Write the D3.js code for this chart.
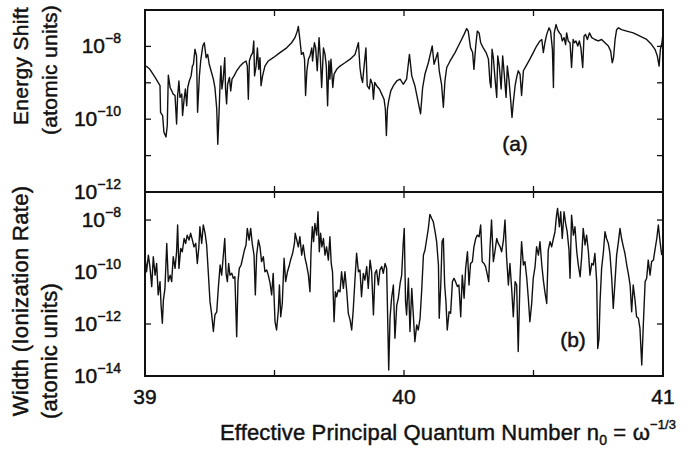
<!DOCTYPE html>
<html>
<head>
<meta charset="utf-8">
<script src="https://cdn.jsdelivr.net/npm/d3@7"></script>
<style>
  body { margin: 0; background: #fff; }
  text { font-family: "Liberation Sans", Arial, sans-serif; fill: #111; stroke: #111; stroke-width: 0.45px; }
</style>
</head>
<body>
<div id="container"></div>
<script>
/* CONSTANTS AND GLOBALS */
const width = 690;
const height = 449;
const frame = { left: 145, right: 663 };
const panelA = { top: 10, bottom: 192 };
const panelB = { top: 192, bottom: 376 };

/* DATA : [n0, log10(value in atomic units)] */
const shiftPts = [
  [39.004,-8.54],[39.019,-8.63],[39.039,-8.85],[39.058,-9.08],[39.060,-9.81],[39.068,-9.90],[39.073,-10.35],[39.081,-10.49],[39.086,-10.17],[39.090,-8.79],
  [39.097,-9.13],[39.103,-9.22],[39.109,-9.31],[39.116,-9.35],[39.122,-10.13],[39.126,-9.35],[39.131,-8.95],[39.135,-9.40],[39.142,-9.31],[39.145,-9.90],
  [39.151,-9.45],[39.156,-9.17],[39.161,-9.63],[39.165,-9.13],[39.171,-8.95],[39.178,-8.81],[39.183,-8.54],[39.187,-8.49],[39.193,-8.08],[39.199,-8.26],
  [39.203,-9.81],[39.210,-8.81],[39.215,-8.40],[39.223,-7.99],[39.229,-7.90],[39.236,-8.31],[39.242,-8.22],[39.248,-8.49],[39.255,-8.67],[39.264,-8.90],
  [39.270,-9.13],[39.277,-9.72],[39.281,-10.69],[39.286,-9.81],[39.290,-8.99],[39.293,-8.54],[39.297,-9.17],[39.302,-8.90],[39.308,-8.31],[39.311,-9.17],
  [39.315,-9.58],[39.319,-9.04],[39.326,-8.85],[39.331,-9.22],[39.336,-8.90],[39.344,-8.81],[39.354,-8.67],[39.367,-8.54],[39.380,-8.45],[39.390,-8.40],
  [39.395,-8.54],[39.399,-9.45],[39.403,-8.40],[39.409,-8.26],[39.416,-8.17],[39.420,-7.85],[39.423,-8.81],[39.429,-8.54],[39.434,-8.04],[39.439,-8.63],
  [39.444,-8.31],[39.448,-9.08],[39.454,-8.81],[39.463,-8.54],[39.476,-8.40],[39.495,-8.31],[39.521,-8.17],[39.547,-8.04],[39.566,-7.90],[39.579,-7.76],
  [39.588,-7.58],[39.592,-7.45],[39.598,-7.81],[39.604,-8.22],[39.611,-8.17],[39.616,-8.35],[39.620,-9.35],[39.625,-8.67],[39.631,-8.35],[39.637,-8.26],
  [39.644,-8.04],[39.647,-8.40],[39.654,-7.90],[39.659,-8.04],[39.665,-8.67],[39.672,-7.76],[39.677,-8.31],[39.682,-9.13],[39.689,-8.04],[39.695,-8.22],
  [39.700,-8.54],[39.705,-9.63],[39.710,-8.40],[39.714,-8.90],[39.718,-8.35],[39.725,-9.13],[39.730,-8.76],[39.740,-8.63],[39.753,-8.54],[39.772,-8.45],
  [39.792,-8.35],[39.811,-8.22],[39.824,-7.90],[39.830,-8.58],[39.835,-8.85],[39.840,-8.99],[39.846,-8.54],[39.853,-8.04],[39.858,-9.08],[39.866,-9.17],
  [39.871,-8.90],[39.878,-9.04],[39.882,-9.45],[39.887,-8.99],[39.894,-9.08],[39.905,-9.17],[39.914,-9.31],[39.923,-9.45],[39.928,-9.72],[39.932,-10.45],
  [39.936,-9.72],[39.941,-9.49],[39.949,-9.22],[39.959,-9.08],[39.972,-8.95],[39.985,-8.90],[39.997,-9.04],[40.010,-8.90],[40.021,-8.22],[40.030,-8.81],
  [40.042,-9.08],[40.055,-9.54],[40.064,-9.85],[40.072,-9.13],[40.081,-8.76],[40.094,-8.45],[40.103,-8.17],[40.109,-7.99],[40.116,-8.49],[40.124,-8.31],
  [40.130,-8.17],[40.136,-8.67],[40.145,-9.04],[40.152,-9.67],[40.158,-8.95],[40.165,-8.58],[40.178,-8.40],[40.197,-8.17],[40.216,-7.90],[40.232,-7.67],
  [40.242,-7.51],[40.248,-7.58],[40.257,-8.04],[40.265,-8.17],[40.270,-8.63],[40.277,-7.99],[40.283,-7.58],[40.290,-7.63],[40.296,-7.90],[40.306,-8.04],
  [40.317,-8.17],[40.326,-8.35],[40.332,-8.99],[40.336,-9.13],[40.340,-8.08],[40.345,-8.31],[40.351,-8.85],[40.358,-9.40],[40.362,-8.26],[40.368,-8.54],
  [40.375,-9.17],[40.381,-8.26],[40.387,-8.76],[40.394,-9.40],[40.399,-8.54],[40.405,-8.90],[40.412,-9.49],[40.417,-9.95],[40.422,-9.54],[40.429,-9.08],
  [40.435,-8.85],[40.441,-8.67],[40.448,-8.76],[40.454,-9.35],[40.461,-8.67],[40.471,-8.54],[40.486,-8.35],[40.499,-8.17],[40.512,-7.99],[40.525,-7.85],
  [40.532,-7.81],[40.538,-8.17],[40.544,-7.90],[40.551,-7.67],[40.560,-7.49],[40.566,-7.58],[40.573,-8.08],[40.577,-9.13],[40.580,-7.63],[40.587,-7.40],
  [40.593,-7.54],[40.600,-7.63],[40.606,-7.67],[40.611,-7.85],[40.618,-7.76],[40.624,-7.95],[40.628,-7.63],[40.634,-7.85],[40.641,-7.90],[40.647,-8.58],
  [40.653,-7.81],[40.658,-7.90],[40.664,-7.85],[40.671,-7.99],[40.677,-7.85],[40.683,-8.04],[40.690,-8.58],[40.695,-7.72],[40.701,-7.67],[40.708,-7.81],
  [40.716,-7.63],[40.725,-7.76],[40.737,-7.81],[40.750,-7.85],[40.763,-7.81],[40.776,-7.90],[40.789,-7.99],[40.798,-8.13],[40.804,-8.45],[40.809,-8.31],
  [40.815,-7.81],[40.821,-7.54],[40.828,-7.49],[40.840,-7.54],[40.860,-7.58],[40.885,-7.63],[40.911,-7.72],[40.937,-7.81],[40.956,-7.95],[40.969,-8.08],
  [40.978,-8.26],[40.985,-8.54],[40.990,-8.08],[40.996,-7.90],[41.000,-7.63]
];

const widthPts = [
  [39.000,-9.41],[39.006,-9.99],[39.013,-9.35],[39.019,-9.79],[39.026,-10.56],[39.032,-9.41],[39.039,-10.12],[39.045,-9.67],[39.051,-10.88],[39.058,-10.37],
  [39.062,-11.27],[39.067,-11.97],[39.071,-11.08],[39.077,-10.63],[39.084,-8.90],[39.090,-10.37],[39.097,-10.12],[39.103,-10.37],[39.109,-9.41],[39.116,-9.86],
  [39.122,-9.22],[39.126,-8.19],[39.131,-9.86],[39.138,-9.09],[39.144,-9.22],[39.151,-8.71],[39.157,-8.90],[39.163,-8.58],[39.170,-8.77],[39.176,-8.51],
  [39.183,-8.77],[39.189,-9.03],[39.196,-8.90],[39.202,-9.67],[39.208,-9.03],[39.212,-8.26],[39.219,-8.90],[39.225,-8.19],[39.232,-8.51],[39.238,-8.96],
  [39.245,-10.12],[39.251,-11.14],[39.257,-11.59],[39.264,-12.29],[39.270,-11.65],[39.277,-11.53],[39.283,-10.63],[39.290,-9.73],[39.296,-10.12],[39.302,-9.41],
  [39.308,-8.71],[39.313,-10.05],[39.318,-10.37],[39.323,-9.67],[39.328,-10.12],[39.335,-10.05],[39.341,-10.24],[39.347,-10.18],[39.354,-12.49],[39.359,-10.37],
  [39.364,-9.86],[39.371,-9.73],[39.377,-9.47],[39.384,-9.15],[39.390,-8.96],[39.395,-8.32],[39.402,-8.77],[39.408,-8.32],[39.414,-8.90],[39.421,-9.35],
  [39.426,-10.88],[39.431,-9.35],[39.438,-8.77],[39.444,-9.03],[39.450,-9.60],[39.457,-9.41],[39.463,-9.99],[39.470,-9.92],[39.476,-10.12],[39.483,-10.44],
  [39.489,-10.88],[39.495,-10.05],[39.502,-11.91],[39.508,-12.23],[39.515,-11.46],[39.519,-10.50],[39.524,-11.72],[39.530,-11.21],[39.537,-9.47],[39.543,-10.37],
  [39.550,-9.99],[39.556,-9.79],[39.562,-9.54],[39.570,-9.28],[39.577,-8.90],[39.580,-8.51],[39.586,-8.77],[39.592,-9.03],[39.598,-8.64],[39.605,-9.35],
  [39.611,-8.96],[39.618,-9.47],[39.624,-9.73],[39.631,-10.12],[39.637,-10.76],[39.641,-9.22],[39.646,-8.26],[39.651,-8.83],[39.656,-8.13],[39.663,-8.58],
  [39.668,-7.68],[39.673,-9.22],[39.678,-8.51],[39.683,-9.03],[39.689,-8.71],[39.695,-9.35],[39.701,-9.03],[39.708,-9.54],[39.714,-8.64],[39.719,-9.67],
  [39.724,-9.99],[39.730,-11.91],[39.735,-10.76],[39.740,-10.95],[39.746,-10.69],[39.753,-10.76],[39.759,-9.99],[39.766,-10.63],[39.772,-9.99],[39.779,-10.76],
  [39.785,-11.59],[39.792,-11.85],[39.798,-12.23],[39.804,-11.46],[39.811,-10.24],[39.817,-9.28],[39.824,-9.99],[39.830,-9.92],[39.836,-10.95],[39.843,-10.05],
  [39.849,-10.31],[39.856,-9.79],[39.862,-10.63],[39.869,-9.54],[39.875,-9.99],[39.882,-11.65],[39.888,-10.05],[39.894,-9.92],[39.901,-10.50],[39.907,-9.92],
  [39.914,-9.79],[39.920,-10.05],[39.927,-9.67],[39.933,-9.86],[39.937,-11.78],[39.941,-13.77],[39.946,-11.78],[39.952,-11.01],[39.959,-10.50],[39.965,-12.55],
  [39.972,-11.27],[39.978,-11.01],[39.985,-10.44],[39.991,-10.12],[39.997,-8.90],[40.001,-8.32],[40.006,-11.14],[40.010,-11.65],[40.017,-10.24],[40.023,-12.29],
  [40.030,-10.63],[40.036,-11.65],[40.042,-12.68],[40.049,-12.04],[40.055,-12.23],[40.062,-11.78],[40.068,-10.76],[40.075,-9.35],[40.081,-9.15],[40.088,-8.71],
  [40.094,-8.32],[40.100,-7.78],[40.107,-7.94],[40.113,-8.06],[40.120,-8.45],[40.126,-8.83],[40.133,-9.73],[40.136,-11.78],[40.142,-10.50],[40.147,-8.83],
  [40.152,-8.71],[40.157,-10.50],[40.162,-11.14],[40.167,-12.23],[40.174,-11.53],[40.180,-11.59],[40.187,-10.37],[40.193,-10.24],[40.199,-10.37],[40.206,-10.56],
  [40.212,-10.50],[40.219,-11.72],[40.225,-10.12],[40.232,-11.01],[40.238,-9.86],[40.245,-9.22],[40.251,-10.50],[40.257,-9.67],[40.264,-9.60],[40.270,-9.03],
  [40.277,-8.71],[40.283,-8.58],[40.290,-8.64],[40.296,-8.19],[40.302,-9.60],[40.309,-9.67],[40.315,-9.79],[40.322,-10.12],[40.327,-10.37],[40.332,-9.09],
  [40.338,-8.00],[40.345,-9.60],[40.351,-9.22],[40.358,-8.71],[40.364,-8.90],[40.371,-9.03],[40.377,-9.22],[40.384,-8.77],[40.390,-8.00],[40.396,-9.41],
  [40.403,-10.50],[40.409,-9.67],[40.416,-10.69],[40.422,-11.72],[40.429,-10.37],[40.435,-10.50],[40.441,-13.06],[40.448,-10.24],[40.454,-8.83],[40.461,-9.73],
  [40.467,-9.60],[40.474,-10.24],[40.480,-11.01],[40.486,-11.91],[40.493,-11.21],[40.499,-10.24],[40.506,-9.79],[40.512,-9.03],[40.519,-9.35],[40.525,-8.83],
  [40.532,-9.73],[40.538,-10.31],[40.544,-10.76],[40.551,-11.21],[40.557,-9.15],[40.564,-8.83],[40.570,-9.03],[40.577,-8.71],[40.583,-8.45],[40.589,-7.81],
  [40.593,-7.55],[40.600,-8.26],[40.605,-7.68],[40.611,-8.71],[40.618,-7.68],[40.624,-8.13],[40.630,-8.45],[40.637,-9.15],[40.641,-10.24],[40.647,-7.81],
  [40.654,-8.58],[40.660,-8.26],[40.667,-9.22],[40.673,-9.73],[40.680,-10.18],[40.686,-9.41],[40.692,-8.32],[40.699,-8.96],[40.705,-8.58],[40.712,-9.22],
  [40.718,-10.12],[40.725,-9.67],[40.731,-9.73],[40.737,-9.28],[40.744,-10.37],[40.748,-12.94],[40.753,-12.55],[40.757,-11.14],[40.763,-9.86],[40.770,-9.22],
  [40.776,-8.45],[40.782,-8.71],[40.789,-8.90],[40.795,-9.28],[40.802,-10.24],[40.808,-11.40],[40.815,-10.31],[40.821,-9.35],[40.828,-8.83],[40.834,-8.32],
  [40.840,-8.71],[40.847,-9.03],[40.853,-9.28],[40.860,-9.73],[40.866,-10.05],[40.873,-10.50],[40.879,-11.53],[40.885,-10.50],[40.892,-11.08],[40.898,-11.72],
  [40.905,-11.78],[40.911,-12.17],[40.918,-13.58],[40.924,-12.04],[40.931,-10.37],[40.937,-10.24],[40.943,-9.54],[40.950,-10.12],[40.956,-9.60],[40.963,-9.54],
  [40.969,-9.15],[40.976,-8.71],[40.982,-8.19],[40.988,-8.77],[40.995,-9.35]
];

const xLabels = [39, 40, 41];
const xTickMarks = [39.5, 40, 40.5];
const shiftLabelExp = [-8, -10, -12];
const shiftTickExp = [-8, -9, -10, -11];
const widthLabelExp = [-8, -10, -12, -14];
const widthTickExp = [-8, -12];

/* SCALES */
const xScale = d3.scaleLinear()
  .domain([39, 41])
  .range([frame.left, frame.right]);

const yShift = d3.scaleLog()
  .domain([1e-12, 1e-7])
  .range([panelA.bottom, panelA.top]);

const yWidth = d3.scaleLog()
  .domain([1e-14, 1.2e-7])
  .range([panelB.bottom, panelB.top]);

/* HTML ELEMENTS */
const svg = d3.select("#container")
  .append("svg")
  .attr("width", width)
  .attr("height", height);

function drawPanel(pts, yScale, p, tickExp, labelExp, id) {
  svg.append("clipPath").attr("id", id)
    .append("rect")
    .attr("x", frame.left).attr("y", p.top)
    .attr("width", frame.right - frame.left).attr("height", p.bottom - p.top);

  const line = d3.line()
    .x(d => xScale(d[0]))
    .y(d => yScale(Math.pow(10, d[1])));

  svg.append("path")
    .datum(pts)
    .attr("clip-path", `url(#${id})`)
    .attr("fill", "none")
    .attr("stroke", "#111")
    .attr("stroke-width", 1.4)
    .attr("stroke-linejoin", "round")
    .attr("d", line);

  // inward ticks on all sides
  const ticks = svg.append("g").attr("stroke", "#111").attr("stroke-width", 1.3);
  tickExp.forEach(e => {
    const y = yScale(Math.pow(10, e));
    ticks.append("line").attr("x1", frame.left).attr("x2", frame.left + 6).attr("y1", y).attr("y2", y);
    ticks.append("line").attr("x1", frame.right).attr("x2", frame.right - 6).attr("y1", y).attr("y2", y);
  });
  xTickMarks.forEach(v => {
    const x = xScale(v);
    ticks.append("line").attr("x1", x).attr("x2", x).attr("y1", p.top).attr("y2", p.top + 6);
    ticks.append("line").attr("x1", x).attr("x2", x).attr("y1", p.bottom).attr("y2", p.bottom - 6);
  });

  // frame
  svg.append("rect")
    .attr("x", frame.left).attr("y", p.top)
    .attr("width", frame.right - frame.left).attr("height", p.bottom - p.top)
    .attr("fill", "none").attr("stroke", "#111").attr("stroke-width", 2);

  // exponent labels
  labelExp.forEach(e => {
    const t = svg.append("text")
      .attr("x", 121)
      .attr("y", yScale(Math.pow(10, e)) + 7)
      .attr("text-anchor", "end")
      .style("font-size", "21px");
    t.append("tspan").text("10");
    t.append("tspan").attr("dy", -10).style("font-size", "14px").text("\u2212" + Math.abs(e));
  });
}

drawPanel(shiftPts, yShift, panelA, shiftTickExp, shiftLabelExp, "clipA");
drawPanel(widthPts, yWidth, panelB, widthTickExp, widthLabelExp, "clipB");

// x labels
svg.selectAll(".xlab")
  .data(xLabels)
  .join("text")
  .attr("class", "xlab")
  .attr("x", d => xScale(d))
  .attr("y", 404)
  .attr("text-anchor", "middle")
  .style("font-size", "21px")
  .text(d => d);

// panel tags
svg.append("text").attr("x", 515).attr("y", 151).attr("text-anchor", "middle")
  .style("font-size", "21px").text("(a)");
svg.append("text").attr("x", 573).attr("y", 347).attr("text-anchor", "middle")
  .style("font-size", "21px").text("(b)");

// y titles
function yTitle(text, x, y, size) {
  svg.append("text")
    .attr("transform", `translate(${x},${y}) rotate(-90)`)
    .attr("text-anchor", "middle")
    .style("font-size", size + "px")
    .style("letter-spacing", "0.3px")
    .text(text);
}
yTitle("Energy Shift", 28, 66, 21);
yTitle("(atomic units)", 57, 70, 21);
yTitle("Width (Ionization Rate)", 28, 301, 22);
yTitle("(atomic units)", 57, 351, 22);

// x title
const xt = svg.append("text")
  .attr("x", 220)
  .attr("y", 440)
  .style("font-size", "22px")
  .style("letter-spacing", "0.15px");
xt.append("tspan").text("Effective Principal Quantum Number n");
xt.append("tspan").attr("dy", 5).style("font-size", "14px").text("0");
xt.append("tspan").attr("dy", -5).text(" = \u03c9");
xt.append("tspan").attr("dy", -11).style("font-size", "13px").text("\u22121/3");
</script>
</body>
</html>
